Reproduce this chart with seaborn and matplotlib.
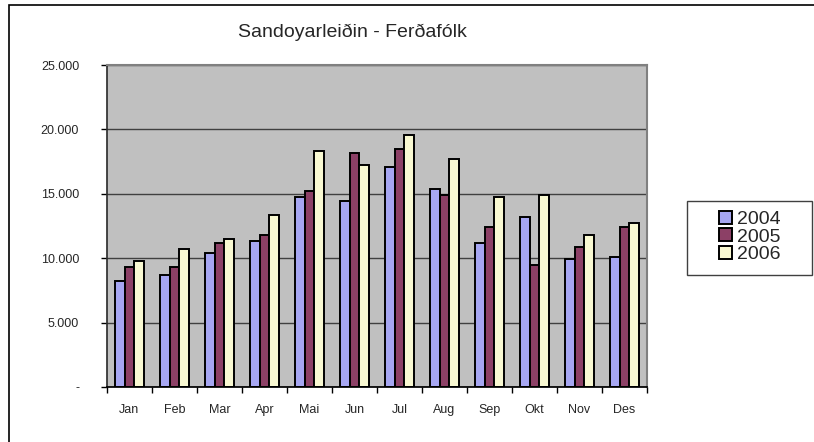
import pandas as pd
import seaborn as sns
import matplotlib.pyplot as plt
from matplotlib.patches import Rectangle
from matplotlib.ticker import FuncFormatter, FixedLocator

sns.set_theme(style="white")
plt.rcParams["font.family"] = ["Liberation Sans", "DejaVu Sans"]

months = ["Jan", "Feb", "Mar", "Apr", "Mai", "Jun", "Jul", "Aug", "Sep", "Okt", "Nov", "Des"]
y2004 = [8250, 8670, 10400, 11330, 14750, 14440, 17080, 15370, 11180, 13200, 9940, 10090]
y2005 = [9290, 9290, 11180, 11780, 15210, 18170, 18480, 14900, 12420, 9470, 10870, 12420]
y2006 = [9780, 10710, 11490, 13350, 18320, 17230, 19560, 17700, 14750, 14900, 11800, 12730]
years = ["2004", "2005", "2006"]
colors = ["#9999FF", "#993366", "#FFFFCC"]

df = pd.DataFrame({
    "month": months * 3,
    "year": [y for y in years for _ in months],
    "value": y2004 + y2005 + y2006,
})

fig = plt.figure(figsize=(8.14, 4.42), dpi=100)
ax = fig.add_axes([0.1314, 0.1244, 0.6634, 0.7285])

sns.barplot(data=df, x="month", y="value", hue="year", palette=colors,
            width=0.66, edgecolor="black", linewidth=1.4, ax=ax)

ax.set_facecolor("#C0C0C0")
ax.set_ylim(0, 25000)
ax.set_xlim(-0.5, 11.5)
ax.set_yticks(range(0, 25001, 5000))
ax.yaxis.set_major_formatter(FuncFormatter(lambda v, p: "-" if v == 0 else f"{int(v):,}".replace(",", ".")))
ax.grid(axis="y", color="#404040", linewidth=1)
ax.set_axisbelow(True)
ax.set_xlabel("")
ax.set_ylabel("")

# ticks between month groups
ax.xaxis.set_minor_locator(FixedLocator([i - 0.5 for i in range(13)]))
ax.tick_params(axis="x", which="major", length=0, labelsize=9, pad=12)
ax.tick_params(axis="x", which="minor", length=4, width=1, color="black", bottom=True)
ax.tick_params(axis="y", length=4, width=1, color="black", left=True, labelsize=9, pad=16)

for side in ["top", "right"]:
    ax.spines[side].set_color("#808080")
    ax.spines[side].set_linewidth(1.5)
ax.spines["left"].set_color("#303030")
ax.spines["bottom"].set_color("black")

ax.set_title("Sandoyarleiðin - Ferðafólk", fontsize=14, pad=20, x=0.455)

# legend (frame drawn separately to match the wide box)
handles, labels = ax.get_legend_handles_labels()
ax.legend(handles, labels, loc="center", bbox_to_anchor=(750 / 814, 1 - 237 / 442),
          bbox_transform=fig.transFigure, fontsize=14, frameon=False,
          labelspacing=0.0, handlelength=0.65, handleheight=0.65, handletextpad=0.3,
          borderpad=0, borderaxespad=0)
fig.patches.append(Rectangle((687 / 814, 1 - 275 / 442), 125 / 814, 74 / 442,
                             transform=fig.transFigure, fill=False,
                             edgecolor="#404040", linewidth=1))

# outer chart frame
fig.patches.append(Rectangle((8.5 / 814, -0.1), 1.2, 1.1 - 5 / 442, transform=fig.transFigure,
                             fill=False, edgecolor="black", linewidth=1.2))

fig.savefig("out.png", dpi=100)
